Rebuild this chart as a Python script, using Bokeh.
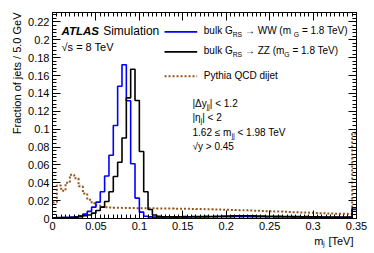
import numpy as np
from bokeh.plotting import figure
from bokeh.models import (Label, LinearAxis, FixedTicker, CustomJSTickFormatter,
                          Range1d, Title)
from bokeh.embed import file_html
from bokeh.resources import INLINE

# ---------------- data (fraction of jets per 5 GeV bin, 0..0.35 TeV) ----------------
bin_width = 0.005
n_bins = 70
ww = [0.0008, 0.0010, 0.0010, 0.0012, 0.0015, 0.0020, 0.0030, 0.0049, 0.0080, 0.0127,
      0.0183, 0.0300, 0.0475, 0.0707, 0.1040, 0.1480, 0.1720, 0.1317, 0.0613, 0.0228,
      0.0071, 0.0026, 0.0018, 0.0015, 0.0014, 0.0015, 0.0016, 0.0014, 0.0015, 0.0016,
      0.0015, 0.0016, 0.0017, 0.0016, 0.0018, 0.0017, 0.0019, 0.0018, 0.0020, 0.0019,
      0.0021, 0.0020, 0.0022, 0.0021, 0.0022, 0.0020, 0.0021, 0.0019, 0.0020, 0.0018,
      0.0019, 0.0017, 0.0018, 0.0016, 0.0017, 0.0015, 0.0016, 0.0015, 0.0014, 0.0015,
      0.0014, 0.0013, 0.0014, 0.0013, 0.0012, 0.0013, 0.0012, 0.0012, 0.0013, 0.0100]
zz = [0.0008, 0.0008, 0.0010, 0.0010, 0.0012, 0.0015, 0.0020, 0.0030, 0.0040, 0.0060,
      0.0090, 0.0127, 0.0190, 0.0300, 0.0470, 0.0630, 0.0900, 0.1350, 0.1670, 0.1320,
      0.0750, 0.0300, 0.0100, 0.0040, 0.0025, 0.0020, 0.0019, 0.0020, 0.0018, 0.0020,
      0.0021, 0.0020, 0.0022, 0.0021, 0.0023, 0.0024, 0.0023, 0.0025, 0.0026, 0.0027,
      0.0028, 0.0029, 0.0030, 0.0029, 0.0031, 0.0030, 0.0029, 0.0028, 0.0027, 0.0026,
      0.0025, 0.0024, 0.0025, 0.0023, 0.0022, 0.0023, 0.0021, 0.0020, 0.0021, 0.0019,
      0.0018, 0.0019, 0.0017, 0.0016, 0.0017, 0.0015, 0.0016, 0.0015, 0.0016, 0.0120]
qcd = [0.0180, 0.0370, 0.0310, 0.0400, 0.0490, 0.0450, 0.0360, 0.0280, 0.0210, 0.0170,
       0.0145, 0.0130, 0.0125, 0.0122, 0.0120, 0.0119, 0.0118, 0.0117, 0.0117, 0.0116,
       0.0116, 0.0115, 0.0114, 0.0114, 0.0113, 0.0112, 0.0112, 0.0111, 0.0110, 0.0110,
       0.0109, 0.0108, 0.0107, 0.0106, 0.0105, 0.0104, 0.0103, 0.0102, 0.0100, 0.0099,
       0.0097, 0.0096, 0.0094, 0.0093, 0.0091, 0.0089, 0.0088, 0.0086, 0.0084, 0.0082,
       0.0080, 0.0078, 0.0077, 0.0075, 0.0073, 0.0071, 0.0070, 0.0068, 0.0066, 0.0064,
       0.0062, 0.0060, 0.0058, 0.0057, 0.0055, 0.0054, 0.0053, 0.0052, 0.0050, 0.0950]

x_major_ticks = [0, 0.05, 0.1, 0.15, 0.2, 0.25, 0.3, 0.35]
y_major_ticks = [0, 0.02, 0.04, 0.06, 0.08, 0.1, 0.12, 0.14, 0.16, 0.18, 0.2, 0.22]
x_label = "mⱼ [TeV]"
y_label = "Fraction of jets / 5.0 GeV"
series_names = ["bulk G_RS → WW (m_G = 1.8 TeV)", "bulk G_RS → ZZ (m_G = 1.8 TeV)",
                "Pythia QCD dijet"]

FONT = "Liberation Sans"

# Helvetica-like advance widths (per 1000 em)
W = {' ': 278, '!': 278, '(': 333, ')': 333, '.': 278, '/': 278, '=': 584, '<': 584, '>': 584,
     '|': 260, '[': 278, ']': 278, '≤': 584, '→': 1000, 'Δ': 668, 'η': 556, '√': 549,
     'A': 667, 'C': 722, 'D': 722, 'G': 778, 'M': 833, 'P': 667, 'Q': 778, 'R': 722, 'S': 667,
     'T': 611, 'V': 667, 'W': 944, 'Z': 611,
     'a': 556, 'b': 556, 'c': 500, 'd': 556, 'e': 556, 'f': 278, 'g': 556, 'h': 556, 'i': 222,
     'j': 222, 'k': 500, 'l': 222, 'm': 833, 'n': 556, 'o': 556, 'p': 556, 'r': 333, 's': 500,
     't': 278, 'u': 556, 'v': 500, 'y': 500}
WBI = {'A': 722, 'T': 611, 'L': 611, 'S': 667}

def tw(s, size, bi=False):
    tab = WBI if bi else W
    return sum(tab.get(c, W.get(c, 556)) for c in s) * size / 1000.0

# ---------------- figure ----------------
p = figure(width=374, height=253, output_backend="svg", toolbar_location=None,
           x_range=Range1d(0, 0.35), y_range=Range1d(0, 0.2305),
           min_border_left=52, min_border_right=18, min_border_top=12, min_border_bottom=35,
           x_axis_type=None, y_axis_type=None)
p.xgrid.visible = False
p.ygrid.visible = False
p.outline_line_color = "black"
p.outline_line_width = 1
p.background_fill_color = "white"
p.border_fill_color = "white"

fmt = CustomJSTickFormatter(code="return (Math.round(tick*1000)/1000).toString();")
x_minor = list(np.round(np.arange(0, 0.35 + 1e-9, 0.005), 4))
y_minor = list(np.round(np.arange(0, 0.2305, 0.004), 4))

def make_axis(kind, labels):
    if kind == "x":
        ax = LinearAxis(ticker=FixedTicker(ticks=x_major_ticks, minor_ticks=x_minor))
    else:
        ax = LinearAxis(ticker=FixedTicker(ticks=y_major_ticks, minor_ticks=y_minor))
    ax.formatter = fmt
    ax.major_tick_in = 8
    ax.major_tick_out = 0
    ax.minor_tick_in = 4
    ax.minor_tick_out = 0
    ax.axis_line_color = "black"
    ax.major_tick_line_color = "black"
    ax.minor_tick_line_color = "black"
    ax.major_label_text_font = FONT
    ax.major_label_text_color = "black"
    if labels:
        ax.major_label_text_font_size = "11px"
        ax.major_label_standoff = 3
    else:
        ax.major_label_text_font_size = "0px"
        ax.major_label_standoff = 0
        ax.major_label_text_alpha = 0
    return ax

p.add_layout(make_axis("x", True), "below")
p.add_layout(make_axis("y", True), "left")
p.add_layout(make_axis("x", False), "above")
p.add_layout(make_axis("y", False), "right")

p.add_layout(Title(text=x_label, align="right", text_font=FONT, text_font_size="11px",
                   text_font_style="normal", text_color="black", standoff=1, offset=3),
             "below")
p.add_layout(Title(text=y_label, align="right", text_font=FONT, text_font_size="11px",
                   text_font_style="normal", text_color="black", standoff=6, offset=0),
             "left")

edges = np.arange(n_bins + 1) * bin_width

def hist(vals, **kw):
    y = np.append(np.asarray(vals), vals[-1])
    return p.step(x=edges, y=y, mode="after", **kw)

styles = [dict(line_color="#0000ff", line_width=1.6),
          dict(line_color="black", line_width=1.6),
          dict(line_color="#94561c", line_width=2, line_dash="2 2")]
hist(qcd, **styles[2])
hist(ww, **styles[0])
hist(zz, **styles[1])

# legend swatches (layout positions in data units of the frame)
leg_x0, leg_x1 = 0.129, 0.1666
leg_rows = [0.2088, 0.1864, 0.1592]
for yrow, st in zip(leg_rows, styles):
    p.line(x=[leg_x0, leg_x1], y=[yrow, yrow], **st)

# ---------------- texts ----------------
def rich(pieces, x, y, size, align="left", sub_drop=0.32):
    items = []
    for pc in pieces:
        t, st = pc[0], pc[1]
        fs = pc[2] if len(pc) > 2 else (size * 0.68 if st == "sub" else size)
        lead = len(t) - len(t.lstrip(" "))
        trail = len(t) - len(t.rstrip(" "))
        core = t.strip(" ")
        items.append((core, st, fs, lead * 278 * fs / 1000, tw(core, fs, bi=(st == "bi")),
                      trail * 278 * fs / 1000))
    total = sum(a + b + c for _, _, _, a, b, c in items)
    off = 0.0 if align == "left" else -total
    for core, st, fs, lead_w, w, trail_w in items:
        off += lead_w
        if core:
            p.add_layout(Label(x=x, y=y, x_offset=off,
                               y_offset=(-sub_drop * size if st == "sub" else 0),
                               text=core, text_font=FONT, text_font_size=f"{fs:.1f}px",
                               text_font_style=("bold italic" if st == "bi" else "normal"),
                               text_baseline="middle", text_align="left", text_color="black"))
        off += w + trail_w

rich([("ATLAS", "bi", 11.5), (" Simulation", "n", 12)], 0.0104, 0.2101, 12)
rich([("√s = 8 TeV", "n")], 0.0104, 0.1914, 11)

rich([("bulk G", "n"), ("RS", "sub"), (" →  WW (m", "n"), ("G", "sub"), (" = 1.8 TeV)", "n")],
     0.1742, 0.2101, 10, sub_drop=0.38)
rich([("bulk G", "n"), ("RS", "sub"), (" → ZZ (m", "n"), ("G", "sub"), (" = 1.8 TeV)", "n")],
     0.1742, 0.1878, 10, sub_drop=0.38)
rich([(series_names[2], "n")], 0.1742, 0.1604, 10)

rich([("|Δy", "n"), ("jj", "sub"), ("| < 1.2", "n")], 0.1612, 0.1288, 10)
rich([("|η", "n"), ("j", "sub"), ("| < 2", "n")], 0.1612, 0.1131, 10)
rich([("1.62 ≤ m", "n"), ("jj", "sub"), (" < 1.98 TeV", "n")], 0.1612, 0.0959, 10)
rich([("√y > 0.45", "n")], 0.1612, 0.0803, 10)

open("out.html", "w").write(file_html(p, INLINE))
